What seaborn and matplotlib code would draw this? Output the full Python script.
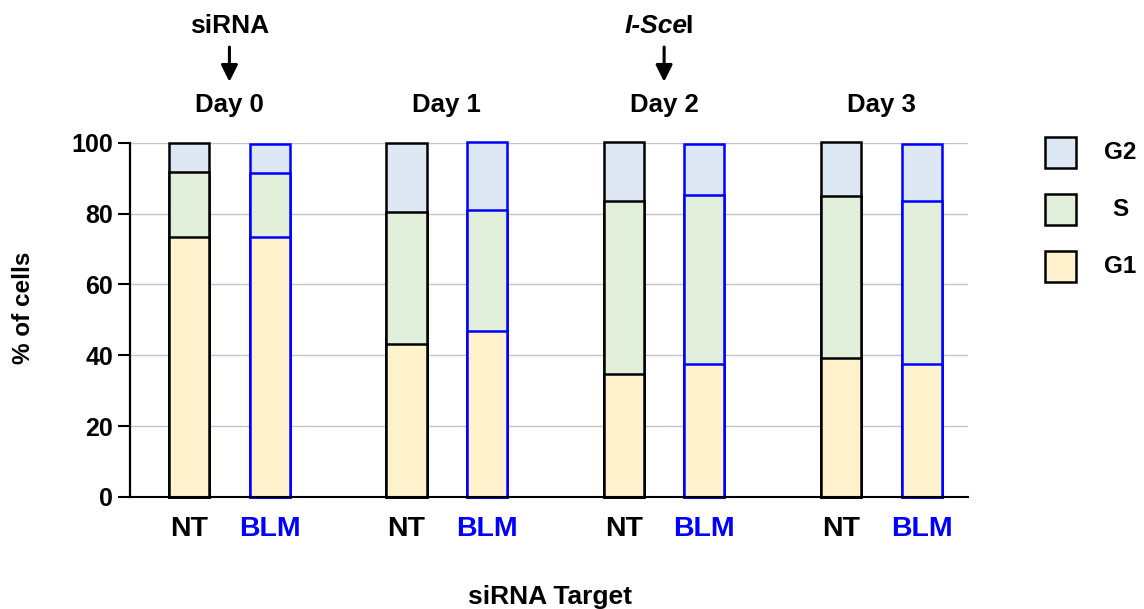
import matplotlib
matplotlib.use("Agg")
import matplotlib.pyplot as plt
import matplotlib.transforms as mtransforms
from matplotlib.patches import Rectangle
import seaborn as sns
import pandas as pd
import numpy as np

# ---- data ----
days = ["Day 0", "Day 1", "Day 2", "Day 3"]
targets = ["NT", "BLM"]
g1 = [73.3, 73.5, 43.2, 46.8, 34.7, 37.6, 39.1, 37.6]
s_phase = [18.3, 17.9, 37.3, 34.2, 48.8, 47.5, 45.8, 45.9]
g2 = [8.2, 8.3, 19.3, 19.3, 16.7, 14.5, 15.3, 16.2]
phase_names = ["G2", "S", "G1"]
phase_colors = {"G2": "#DDE8F4", "S": "#E2EFDA", "G1": "#FFF2CC"}
target_colors = {"NT": "#000000", "BLM": "#0000FF"}

sns.set_style("white")
plt.rcParams["font.family"] = ["Liberation Sans", "DejaVu Sans"]
plt.rcParams["font.weight"] = "bold"
for key in ["text.color", "axes.labelcolor", "xtick.color", "ytick.color"]:
    plt.rcParams[key] = "black"

W, H = 1144, 609
fig = plt.figure(figsize=(W / 100, H / 100), dpi=100)
ax = fig.add_axes([130 / W, 1 - 496.9 / H, (968 - 130) / W, 354.2 / H])

group_gap = 2.7
rows = []
for gi, d in enumerate(days):
    for ti, t in enumerate(targets):
        k = gi * 2 + ti
        rows.append(dict(day=d, target=t, pos=gi * group_gap + ti,
                         G1=g1[k], S=g1[k] + s_phase[k],
                         G2=g1[k] + s_phase[k] + g2[k]))
df = pd.DataFrame(rows)
pos_to_target = dict(zip(df["pos"], df["target"]))

for ph in phase_names:
    n0 = len(ax.patches)
    sns.barplot(data=df, x="pos", y=ph, native_scale=True, width=0.5,
                color=phase_colors[ph], saturation=1, linewidth=1.8,
                errorbar=None, ax=ax, zorder=3)
    for p in ax.patches[n0:]:
        xc = p.get_x() + p.get_width() / 2
        nearest = min(pos_to_target, key=lambda v: abs(v - xc))
        p.set_edgecolor(target_colors[pos_to_target[nearest]])
        p.set_facecolor(phase_colors[ph])
        p.set_clip_on(False)

ax.set_xlim(-0.735, 9.675)
ax.set_ylim(0, 100)
ax.set_yticks([0, 20, 40, 60, 80, 100])
ax.yaxis.grid(True, color="#C4C4C4", linewidth=1.0, zorder=0)
ax.xaxis.grid(False)
ax.set_axisbelow(True)
for sp in ["top", "right"]:
    ax.spines[sp].set_visible(False)
ax.spines["left"].set_color("black")
ax.spines["left"].set_linewidth(1.6)
ax.spines["bottom"].set_color("black")
ax.spines["bottom"].set_linewidth(1.5)
ax.spines["left"].set_zorder(5)
ax.spines["bottom"].set_zorder(5)

ax.tick_params(axis="y", which="major", left=True, length=9, width=1.5,
               color="black", pad=3, labelsize=18, labelcolor="black")
for lab in ax.get_yticklabels():
    lab.set_fontweight("bold")

ax.set_xticks(df["pos"].to_list())
ax.set_xticklabels(df["target"].to_list())
ax.tick_params(axis="x", length=0, pad=14, labelsize=20.5)
for lab, t in zip(ax.get_xticklabels(), df["target"]):
    lab.set_color(target_colors[t])
    lab.set_fontweight("bold")

ax.set_xlabel("")
ax.set_ylabel("% of cells", fontsize=17.5, fontweight="bold", color="black")
ax.yaxis.set_label_coords(-0.113, 0.533)

fig.text(550 / W, 1 - 597 / H, "siRNA Target", ha="center", va="center",
         fontsize=19, fontweight="bold")

# day labels
trans = mtransforms.blended_transform_factory(ax.transData, ax.transAxes)
for gi, d in enumerate(days):
    xc = gi * group_gap + 0.5
    ax.text(xc, 1.087, d, transform=trans, ha="center", va="baseline",
            fontsize=18.5, fontweight="bold")

# treatment annotations
def arrow(xc):
    ax.annotate("", xy=(xc, 1.172), xytext=(xc, 1.27), xycoords=trans,
                textcoords=trans,
                arrowprops=dict(arrowstyle="-|>,head_length=0.5,head_width=0.25",
                                mutation_scale=20, color="black", lw=2.2,
                                shrinkA=0, shrinkB=0))

x0 = 0 * group_gap + 0.5
ax.text(x0, 1.31, "siRNA", transform=trans, ha="center", va="baseline",
        fontsize=19, fontweight="bold")
arrow(x0)

x2 = 2 * group_gap + 0.5
fs = 19
em_px = fs * 100 / 72
split_pt = (2.39 - 1.334) * em_px * 72 / 100 - 3.0
tsplit = mtransforms.offset_copy(trans, fig=fig, x=split_pt, y=0, units="points")
ax.text(x2, 1.31, "I-Sce", transform=tsplit, ha="right", va="baseline",
        fontsize=fs, fontweight="bold", fontstyle="italic")
tsplit2 = mtransforms.offset_copy(trans, fig=fig, x=split_pt - 1.5, y=0, units="points")
ax.text(x2, 1.31, "I", transform=tsplit2, ha="left", va="baseline",
        fontsize=fs, fontweight="bold")
arrow(x2)

# legend
leg_items = [("G2", 136.7), ("S", 194), ("G1", 250.7)]
for name, ytop in leg_items:
    fig.add_artist(Rectangle((1045 / W, 1 - (ytop + 31) / H), 31 / W, 31 / H,
                             transform=fig.transFigure, facecolor=phase_colors[name],
                             edgecolor="black", linewidth=1.8))
    fig.text(1120 / W, 1 - (ytop + 15.5) / H, name, ha="center", va="center",
             fontsize=17.5, fontweight="bold")

fig.savefig("out.png", dpi=100)
